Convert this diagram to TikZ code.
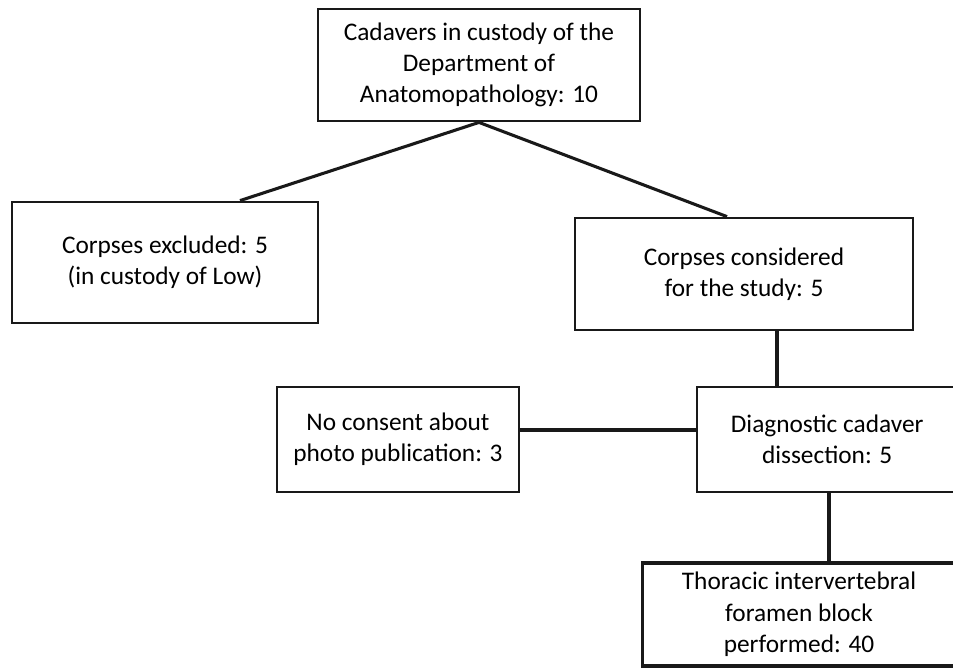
\documentclass[tikz,border=0pt]{standalone}
\usepackage{fontspec}
\setmainfont{Carlito}
\newcommand{\myshiftA}{\hspace*{-107pt}}
\newcommand{\myshiftB}{\hspace*{-111pt}}
\begin{document}
\begin{tikzpicture}[x=0.75pt,y=-0.75pt,
  box/.style={draw=black!90, line width=2.1pt, align=center, inner sep=0pt,
    font=\fontsize{19pt}{23.5pt}\selectfont},
  thick box/.style={box, line width=2.8pt},
  link/.style={draw=black!90, line width=2.3pt}]
\useasboundingbox (0,0) rectangle (953,668);
\clip (0,0) rectangle (953,668);
\node[box, minimum width=241.5pt, minimum height=84pt] (b1) at (479,65)
  {Cadavers in custody of the\\Department of\\Anatomopathology: 10};
\node[box, minimum width=229.5pt, minimum height=90.75pt] (b2) at (165,262.5)
  {Corpses excluded: 5\\(in custody of Low)};
\node[box, minimum width=253.5pt, minimum height=84pt] (b3) at (744,274)
  {Corpses considered\\for the study: 5};
\node[box, minimum width=181.5pt, minimum height=78.75pt] (b4) at (398,439.5)
  {No consent about\\photo publication: 3};
\node[box, minimum width=302.25pt, minimum height=78.75pt] (b5) at (898.5,439.5)
  {\myshiftA Diagnostic cadaver\\\myshiftA dissection: 5};
\node[thick box, minimum width=345.75pt, minimum height=77.25pt] (b6) at (873,614.5)
  {\myshiftB Thoracic intervertebral\\\myshiftB foramen block\\\myshiftB performed: 40};
\draw[link] (b1.south) -- (b2.north -| 240,0);
\draw[link] (b1.south) -- (b3.north -| 727,0);
\draw[link] (b3.south -| 777,0) -- (b5.north -| 777,0);
\draw[link] (b4.east |- 0,430) -- (b5.west |- 0,430);
\draw[link] (b5.south -| 829,0) -- (b6.north -| 829,0);
\end{tikzpicture}
\end{document}
